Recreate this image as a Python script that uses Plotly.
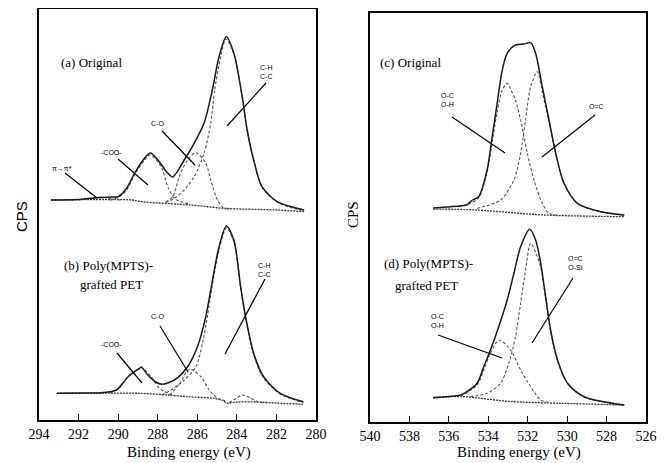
import plotly.graph_objects as go

# the page body adds an 8 px margin, so the figure is 8 px smaller and all layout pixels are offset
OFF = 8
W, H = 668 - OFF, 463 - OFF

# ---------------- C1s panel data (binding energy eV, intensity a.u.) ----------------
# (a) Original PET
A_ENV_E = [293.4, 292.0, 291.2, 290.8, 290.3, 290.0, 289.6, 289.17, 288.67, 288.38, 287.99, 287.49, 287.24,
           286.66, 286.16, 285.66, 285.24, 284.9, 284.53, 284.15, 283.73, 283.48, 283.15, 282.73, 281.97, 281.2, 280.6]
A_ENV = [220, 220.5, 222, 222.5, 223, 223.3, 231, 246.7, 261.7, 267, 260, 246.7, 243,
         260, 276.7, 296.7, 330, 363.3, 383.3, 366.7, 323.3, 290, 260, 233.3, 218.3, 213, 210]
A_BASE_E = [293.4, 289.3, 288.83, 286.32, 284.65, 282.0, 280.6]
A_BASE = [220, 220, 218.3, 215, 211.7, 210, 208.5]
A_CH_E = [287.6, 287.16, 286.66, 286.16, 285.66, 285.32, 285.12, 284.82, 284.55, 284.15, 283.73, 283.48,
          283.15, 282.73, 281.97, 281.2, 280.6]
A_CH = [217.5, 221.7, 230, 243.3, 266.7, 296.7, 330, 363, 381, 366, 323, 290, 260, 233, 218, 212, 209.5]
A_CO_E = [287.6, 287.24, 286.91, 286.49, 286.07, 285.57, 285.32, 284.98, 284.65, 284.3]
A_CO = [218, 223.3, 243.3, 260, 267.3, 256.7, 240, 220, 211.7, 211]
A_COO_E = [290.4, 290.0, 289.6, 289.17, 288.67, 288.38, 287.83, 287.49, 287.16, 286.82, 286.4]
A_COO = [220, 222.5, 229, 245, 260, 265, 253.3, 233.3, 221.7, 218.3, 216]
A_PI_E = [292.0, 291.4, 290.9, 290.4, 289.9]
A_PI = [220, 222, 223, 221.5, 220]

# (b) Poly(MPTS)-grafted PET
B_ENV_E = [293.1, 291.5, 290.84, 290.09, 289.5, 288.92, 288.83, 288.5, 288.1, 287.8, 287.16, 286.49, 285.99,
           285.57, 285.32, 284.9, 284.53, 284.15, 283.81, 283.56, 283.15, 282.65, 281.81, 280.64]
B_ENV = [26.7, 27, 27.3, 30, 43.3, 51.7, 53, 45, 38, 35.7, 40, 53.3, 73.3,
         103.3, 130, 173.3, 194, 180, 133.3, 103.3, 66.7, 43.3, 26.7, 18.3]
B_BASE_E = [293.1, 289.0, 287.5, 286.5, 285.2, 284.7, 284.5, 284.0, 283.0, 282.0, 280.65]
B_BASE = [26.7, 26.7, 25, 23.3, 21.7, 19.5, 17, 18, 18, 17, 15.7]
B_CH_E = [287.8, 287.33, 286.66, 286.07, 285.74, 285.49, 285.28, 284.9, 284.53, 284.15, 283.81, 283.56,
          283.15, 282.65, 281.81, 280.64]
B_CH = [25, 30, 40, 53.3, 76.7, 103.3, 130, 170, 192, 178, 132, 102, 65, 42, 26, 17.5]
B_CO_E = [287.4, 286.9, 286.4, 285.82, 285.4, 284.98, 284.6]
B_CO = [25, 36, 51, 43.3, 30, 21.7, 19.5]
B_COO_E = [290.4, 289.9, 289.5, 288.92, 288.83, 288.33, 287.99, 287.66, 287.3]
B_COO = [27, 33, 43, 51.7, 52.5, 43.3, 33.3, 28.3, 25.5]
B_SI_E = [284.4, 284.0, 283.73, 283.3, 282.9, 282.5]
B_SI = [17.5, 22, 25, 22, 18, 17]

# ---------------- O1s panel data ----------------
# (c) Original PET
C_ENV_E = [536.8, 536.1, 535.5, 535.1, 534.8, 534.49, 534.06, 533.8, 533.55, 533.29, 533.04, 532.62, 532.2,
           531.85, 531.6, 531.26, 530.92, 530.58, 530.16, 529.48, 528.29, 527.1]
C_ENV = [214, 215, 216, 217, 222, 225.3, 252, 285.3, 318.7, 352, 368.7, 377, 378,
         379.3, 368.7, 335.3, 302, 268.7, 238.7, 218.7, 210.3, 207]
C_BASE_E = [536.8, 534.57, 531.17, 527.1]
C_BASE = [213, 212, 207, 205.3]
C_OEC_E = [534.57, 533.38, 532.7, 532.36, 532.11, 531.85, 531.51, 531.26, 530.92, 530.58, 530.16, 529.48, 528.29, 527.1]
C_OEC = [213.7, 222, 242, 268.7, 302, 335.3, 350.3, 330, 300, 268.7, 238.7, 218.7, 210.3, 207]
C_OH_E = [535.5, 534.9, 534.49, 534.06, 533.8, 533.55, 533.29, 533.04, 532.8, 532.62, 532.36, 532.02,
          531.68, 531.26, 530.92, 530.5]
C_OH = [215, 219, 224, 250, 280, 310, 332, 338.7, 330, 322, 302, 268.7, 242, 218.7, 208.7, 207]

# (d) Poly(MPTS)-grafted PET
D_ENV_E = [536.78, 536.0, 535.4, 535.08, 534.57, 534.23, 533.89, 533.47, 533.04, 532.7, 532.36, 531.9,
           531.6, 531.34, 531.09, 530.84, 530.49, 529.98, 529.14, 527.1]
D_ENV = [24.5, 25.5, 27, 30.3, 38.7, 55.3, 72, 95.3, 122, 148.7, 175.3, 192.7,
         182, 158.7, 125.3, 92, 62, 38.7, 25.3, 17]
D_BASE_E = [536.8, 535.4, 532.9, 530.3, 527.1]
D_BASE = [24, 25.5, 20.5, 18.7, 17]
D_OSI_E = [534.91, 534.06, 533.38, 532.96, 532.62, 532.36, 532.11, 531.85, 531.51, 531.34, 531.09, 530.84,
           530.49, 529.98, 529.14, 527.1]
D_OSI = [25.3, 28.7, 38.7, 58.7, 85.3, 118.7, 152, 178.7, 165.3, 155, 123, 91, 61.5, 38.5, 25, 17]
D_OH_E = [535.4, 534.57, 534.23, 533.89, 533.45, 532.87, 532.36, 531.85, 531.34, 530.9]
D_OH = [25.5, 37, 52, 68.7, 82, 72, 52, 35.3, 22, 19.5]

TICKS_C = [294, 292, 290, 288, 286, 284, 282, 280]
TICKS_O = [540, 538, 536, 534, 532, 530, 528, 526]

SERIF = "Liberation Serif"
SANS = "Liberation Sans"


def px(x, y):
    return (x - OFF) / W, 1 - (y - OFF) / H


def xdom(x0, x1):
    return [(x0 - OFF) / W, (x1 - OFF) / W]


def ydom(ytop, ybot):
    return [1 - (ybot - OFF) / H, 1 - (ytop - OFF) / H]


fig = go.Figure()

ENV = dict(color="#1a1a1a", width=1.5)
COMP = dict(color="#555555", width=1.1, dash="3px,2px")
BASE = dict(color="#333333", width=1.3, dash="2px,1px")


def add(xs, ys, line, ax):
    fig.add_trace(go.Scatter(x=xs, y=ys, mode="lines", line=dict(**line, shape="spline", smoothing=0.8),
                             xaxis="x" + ax, yaxis="y" + ax, showlegend=False, hoverinfo="skip"))


for xs, ys, ln in [(A_BASE_E, A_BASE, BASE), (A_PI_E, A_PI, COMP), (A_COO_E, A_COO, COMP), (A_CO_E, A_CO, COMP),
                   (A_CH_E, A_CH, COMP), (A_ENV_E, A_ENV, ENV),
                   (B_BASE_E, B_BASE, BASE), (B_SI_E, B_SI, COMP), (B_COO_E, B_COO, COMP), (B_CO_E, B_CO, COMP),
                   (B_CH_E, B_CH, COMP), (B_ENV_E, B_ENV, ENV)]:
    add(xs, ys, ln, "")
for xs, ys, ln in [(C_BASE_E, C_BASE, BASE), (C_OH_E, C_OH, COMP), (C_OEC_E, C_OEC, COMP), (C_ENV_E, C_ENV, ENV),
                   (D_BASE_E, D_BASE, BASE), (D_OH_E, D_OH, COMP), (D_OSI_E, D_OSI, COMP), (D_ENV_E, D_ENV, ENV)]:
    add(xs, ys, ln, "2")

xa = dict(showgrid=False, zeroline=False, showline=True, linecolor="black", linewidth=1.6, mirror=True,
          automargin=False, ticks="inside", ticklen=6, tickwidth=1.4, tickcolor="black",
          tickfont=dict(family=SERIF, size=14, color="black"))
ya = dict(showgrid=False, zeroline=False, showline=True, linecolor="black", linewidth=1.6, mirror=True,
          automargin=False, showticklabels=False, ticks="")

fig.update_layout(
    width=W, height=H, autosize=False, margin=dict(l=0, r=0, t=0, b=0, autoexpand=False),
    paper_bgcolor="white", plot_bgcolor="white", font=dict(family=SERIF),
    xaxis=dict(**xa, domain=xdom(39, 316), range=[294, 280], tickvals=TICKS_C, anchor="y"),
    yaxis=dict(**ya, domain=ydom(9, 420), range=[0, 411], anchor="x"),
    xaxis2=dict(**xa, domain=xdom(370, 646), range=[540, 526], tickvals=TICKS_O, anchor="y2"),
    yaxis2=dict(**ya, domain=ydom(13, 422), range=[0, 409], anchor="x2"),
)

annots = []


def text(t, x, y, size, family=SERIF, angle=0):
    ax, ay = px(x, y)
    annots.append(dict(text=t, x=ax, y=ay, xref="paper", yref="paper", showarrow=False, xanchor="center",
                       yanchor="middle", textangle=angle, font=dict(family=family, size=size, color="black")))


shapes = []


def leader(x0, y0, x1, y1):
    a0, b0 = px(x0, y0)
    a1, b1 = px(x1, y1)
    shapes.append(dict(type="line", xref="paper", yref="paper", x0=a0, y0=b0, x1=a1, y1=b1,
                       line=dict(color="black", width=1.2)))


TINY = dict(size=7, family=SANS)

# panel (a)
text("(a) Original", 91, 62, 13)
text("C-H<br>C-C", 266, 72, **TINY)
leader(266, 83, 227, 126)
text("C-O", 157, 123, **TINY)
leader(162, 131, 195, 165)
text("-COO-", 112, 152, **TINY)
leader(118, 159, 148, 185)
text("π→π*", 62, 168, **TINY)
leader(65, 173, 97, 198)

# panel (b)
text("(b) Poly(MPTS)-", 108, 265, 13)
text("grafted PET", 112, 284, 13)
text("C-H<br>C-C", 264, 270, **TINY)
leader(265, 279, 225, 354)
text("C-O", 157, 316, **TINY)
leader(160, 326, 188, 372)
text("-COO-", 112, 344, **TINY)
leader(117, 353, 142, 383)

# panel (c)
text("(c) Original", 410, 62, 13)
text("O-C<br>O-H", 447, 100, **TINY)
leader(452, 117, 505, 153)
text("O=C", 596, 106, **TINY)
leader(595, 115, 542, 157)

# panel (d)
text("(d) Poly(MPTS)-", 428, 263, 13)
text("grafted PET", 426, 285, 13)
text("O=C<br>O-Si", 575, 263, **TINY)
leader(573, 278, 532, 343)
text("O-C<br>O-H", 437, 321, **TINY)
leader(438, 335, 502, 358)

# axis titles
text("Binding energy (eV)", 189, 452, 15)
text("Binding energy (eV)", 519, 452, 15)
text("CPS", 22, 217, 15, family=SANS, angle=-90)
text("CPS", 353, 215, 15, angle=-90)

fig.update_layout(annotations=annots, shapes=shapes)
fig.write_html("out.html")
